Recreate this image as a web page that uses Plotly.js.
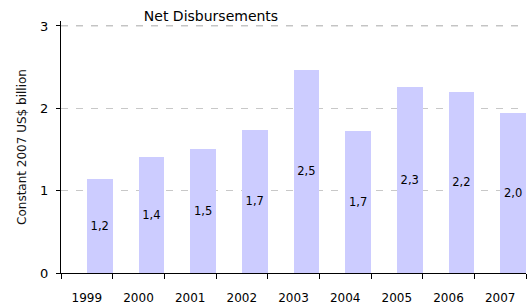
<!DOCTYPE html>
<html>
<head>
<meta charset="utf-8">
<script src="https://cdn.plot.ly/plotly-3.0.1.min.js"></script>
<style>html,body{margin:0;padding:0;background:#fff;}#chart{width:531px;height:304px;}</style>
</head>
<body>
<div id="chart"></div>
<script>
var years = ['1999','2000','2001','2002','2003','2004','2005','2006','2007'];
var values = [1.14, 1.41, 1.51, 1.74, 2.47, 1.73, 2.26, 2.20, 1.94];
var labels = ['1,2','1,4','1,5','1,7','2,5','1,7','2,3','2,2','2,0'];
var yTicks = [0, 1, 2, 3];

var trace = {
  type: 'bar',
  x: years,
  y: values,
  text: labels,
  textposition: 'inside',
  insidetextanchor: 'middle',
  textangle: 0,
  textfont: {family: 'DejaVu Sans', size: 11.5, color: '#000', weight: 500},
  marker: {color: 'rgb(204,204,255)', line: {width: 0}},
  width: 0.5,
  offset: 0,
  hoverinfo: 'none'
};

var layout = {
  width: 531, height: 304,
  margin: {l: 61, r: 5, t: 21, b: 31},
  paper_bgcolor: '#fff', plot_bgcolor: '#fff',
  showlegend: false,
  font: {family: 'DejaVu Sans', size: 11, color: '#000'},
  title: {text: 'Net Disbursements', font: {family: 'DejaVu Sans', size: 14, color: '#000', weight: 500},
          x: 211/531, xanchor: 'center', y: 1 - 16/304, yanchor: 'middle'},
  xaxis: {
    type: 'category', showgrid: false, zeroline: false,
    showline: true, linecolor: '#000', linewidth: 1,
    ticks: 'outside', tickson: 'boundaries', ticklen: 5, tickcolor: '#000',
    tickfont: {family: 'DejaVu Sans', size: 12, color: '#000'},
    ticklabelstandoff: 14
  },
  yaxis: {
    range: [0, 3.06], tickvals: yTicks, ticktext: yTicks.map(String),
    showgrid: true, gridcolor: '#c8c8c8', griddash: '7px,8px', gridwidth: 1,
    zeroline: false, showline: true, linecolor: '#000', linewidth: 1,
    ticks: 'outside', ticklen: 4, tickcolor: '#000',
    tickfont: {family: 'DejaVu Sans', size: 13, color: '#000'},
    ticklabelstandoff: 5,
    title: {text: 'Constant 2007 US$ billion', font: {family: 'DejaVu Sans', size: 12, color: '#111'}, standoff: 10}
  },
  shapes: [{
    type: 'line', xref: 'paper', yref: 'y', x0: 0, x1: 1,
    y0: yTicks[yTicks.length - 1], y1: yTicks[yTicks.length - 1],
    line: {color: '#c0c0c0', width: 1, dash: '7px,8px'}, layer: 'above'
  }],
  bargap: 0
};

Plotly.newPlot('chart', [trace], layout, {staticPlot: true, displayModeBar: false});
</script>
</body>
</html>
